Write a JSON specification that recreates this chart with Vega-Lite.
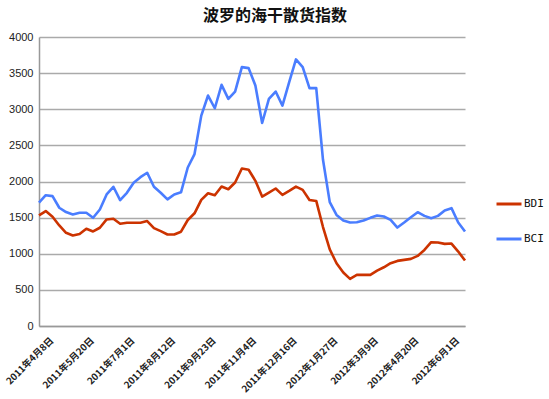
{
  "$schema": "https://vega.github.io/schema/vega-lite/v6.json",
  "autosize": {"type": "none"},
  "padding": {"left": 39, "top": 37, "right": 84, "bottom": 73},
  "width": 426,
  "height": 289,
  "background": "white",
  "config": {"view": {"stroke": null}},
  "title": {
    "text": "波罗的海干散货指数",
    "font": "Noto Sans CJK SC",
    "fontSize": 16,
    "fontWeight": "bold",
    "color": "#111111",
    "anchor": "middle",
    "dx": 23,
    "offset": 7
  },
  "data": {
    "values": [
      {"date": "2011年4月8日", "BDI": 1530, "BCI": 1706},
      {"date": "2011年4月15日", "BDI": 1590, "BCI": 1810},
      {"date": "2011年4月22日", "BDI": 1512, "BCI": 1798},
      {"date": "2011年4月29日", "BDI": 1392, "BCI": 1637},
      {"date": "2011年5月6日", "BDI": 1290, "BCI": 1577},
      {"date": "2011年5月13日", "BDI": 1253, "BCI": 1544},
      {"date": "2011年5月20日", "BDI": 1272, "BCI": 1567},
      {"date": "2011年5月27日", "BDI": 1346, "BCI": 1567},
      {"date": "2011年6月3日", "BDI": 1309, "BCI": 1498},
      {"date": "2011年6月10日", "BDI": 1360, "BCI": 1613},
      {"date": "2011年6月17日", "BDI": 1475, "BCI": 1821},
      {"date": "2011年6月24日", "BDI": 1484, "BCI": 1927},
      {"date": "2011年7月1日", "BDI": 1415, "BCI": 1743},
      {"date": "2011年7月8日", "BDI": 1429, "BCI": 1844},
      {"date": "2011年7月15日", "BDI": 1429, "BCI": 1983},
      {"date": "2011年7月22日", "BDI": 1429, "BCI": 2060},
      {"date": "2011年7月29日", "BDI": 1452, "BCI": 2121},
      {"date": "2011年8月5日", "BDI": 1355, "BCI": 1927},
      {"date": "2011年8月12日", "BDI": 1313, "BCI": 1844},
      {"date": "2011年8月19日", "BDI": 1267, "BCI": 1752},
      {"date": "2011年8月26日", "BDI": 1267, "BCI": 1821},
      {"date": "2011年9月2日", "BDI": 1305, "BCI": 1850},
      {"date": "2011年9月9日", "BDI": 1467, "BCI": 2194},
      {"date": "2011年9月16日", "BDI": 1560, "BCI": 2380},
      {"date": "2011年9月23日", "BDI": 1745, "BCI": 2912},
      {"date": "2011年9月30日", "BDI": 1838, "BCI": 3190},
      {"date": "2011年10月7日", "BDI": 1810, "BCI": 3014},
      {"date": "2011年10月14日", "BDI": 1930, "BCI": 3338},
      {"date": "2011年10月21日", "BDI": 1893, "BCI": 3143},
      {"date": "2011年10月28日", "BDI": 1986, "BCI": 3245},
      {"date": "2011年11月4日", "BDI": 2180, "BCI": 3583},
      {"date": "2011年11月11日", "BDI": 2162, "BCI": 3569},
      {"date": "2011年11月18日", "BDI": 2009, "BCI": 3329},
      {"date": "2011年11月25日", "BDI": 1792, "BCI": 2810},
      {"date": "2011年12月2日", "BDI": 1847, "BCI": 3143},
      {"date": "2011年12月9日", "BDI": 1903, "BCI": 3245},
      {"date": "2011年12月16日", "BDI": 1815, "BCI": 3051},
      {"date": "2011年12月23日", "BDI": 1870, "BCI": 3375},
      {"date": "2011年12月30日", "BDI": 1930, "BCI": 3690},
      {"date": "2012年1月6日", "BDI": 1884, "BCI": 3583},
      {"date": "2012年1月13日", "BDI": 1745, "BCI": 3292},
      {"date": "2012年1月20日", "BDI": 1731, "BCI": 3292},
      {"date": "2012年1月27日", "BDI": 1370, "BCI": 2300},
      {"date": "2012年2月3日", "BDI": 1060, "BCI": 1715},
      {"date": "2012年2月10日", "BDI": 869, "BCI": 1538},
      {"date": "2012年2月17日", "BDI": 740, "BCI": 1460},
      {"date": "2012年2月24日", "BDI": 652, "BCI": 1432},
      {"date": "2012年3月2日", "BDI": 707, "BCI": 1437},
      {"date": "2012年3月9日", "BDI": 707, "BCI": 1460},
      {"date": "2012年3月16日", "BDI": 707, "BCI": 1497},
      {"date": "2012年3月23日", "BDI": 767, "BCI": 1529},
      {"date": "2012年3月30日", "BDI": 813, "BCI": 1515},
      {"date": "2012年4月6日", "BDI": 869, "BCI": 1469},
      {"date": "2012年4月13日", "BDI": 901, "BCI": 1363},
      {"date": "2012年4月20日", "BDI": 915, "BCI": 1432},
      {"date": "2012年4月27日", "BDI": 929, "BCI": 1506},
      {"date": "2012年5月4日", "BDI": 970, "BCI": 1575},
      {"date": "2012年5月11日", "BDI": 1053, "BCI": 1524},
      {"date": "2012年5月18日", "BDI": 1160, "BCI": 1492},
      {"date": "2012年5月25日", "BDI": 1155, "BCI": 1524},
      {"date": "2012年6月1日", "BDI": 1137, "BCI": 1598},
      {"date": "2012年6月8日", "BDI": 1141, "BCI": 1631},
      {"date": "2012年6月15日", "BDI": 1030, "BCI": 1432},
      {"date": "2012年6月22日", "BDI": 906, "BCI": 1307}
    ]
  },
  "transform": [{"fold": ["BDI", "BCI"], "as": ["index", "value"]}],
  "mark": {"type": "line", "strokeWidth": 2.6, "strokeJoin": "round"},
  "encoding": {
    "x": {
      "field": "date",
      "type": "ordinal",
      "sort": null,
      "scale": {"type": "point", "padding": 0},
      "axis": {
        "title": null,
        "values": ["2011年4月8日", "2011年5月20日", "2011年7月1日", "2011年8月12日", "2011年9月23日", "2011年11月4日", "2011年12月16日", "2012年1月27日", "2012年3月9日", "2012年4月20日", "2012年6月1日"],
        "labelAngle": -45,
        "labelFont": "Noto Sans CJK SC",
        "labelFontSize": 9.5,
        "labelFontWeight": "bold",
        "labelColor": "#222222",
        "labelPadding": 9,
        "labelOffset": 9,
        "labelOverlap": false,
        "ticks": false,
        "domainColor": "#999999",
        "domainWidth": 1.5,
        "grid": false
      }
    },
    "y": {
      "field": "value",
      "type": "quantitative",
      "scale": {"domain": [0, 4000], "nice": false},
      "axis": {
        "title": null,
        "format": "d",
        "values": [0, 500, 1000, 1500, 2000, 2500, 3000, 3500, 4000],
        "labelFont": "Liberation Sans",
        "labelFontSize": 11,
        "labelColor": "#222222",
        "labelPadding": 6,
        "ticks": false,
        "domainColor": "#999999",
        "domainWidth": 1.5,
        "gridColor": "#aaaaaa",
        "gridWidth": 1.5,
        "gridOpacity": 1
      }
    },
    "color": {
      "field": "index",
      "type": "nominal",
      "scale": {"domain": ["BDI", "BCI"], "range": ["#cc3300", "#4a7dff"]},
      "legend": {
        "title": null,
        "orient": "none",
        "legendX": 456,
        "legendY": 153,
        "symbolType": "stroke",
        "symbolSize": 625,
        "symbolStrokeWidth": 3,
        "labelFont": "DejaVu Sans Mono",
        "labelFontSize": 11,
        "labelColor": "#111111",
        "labelOffset": 1,
        "rowPadding": 15
      }
    }
  }
}
